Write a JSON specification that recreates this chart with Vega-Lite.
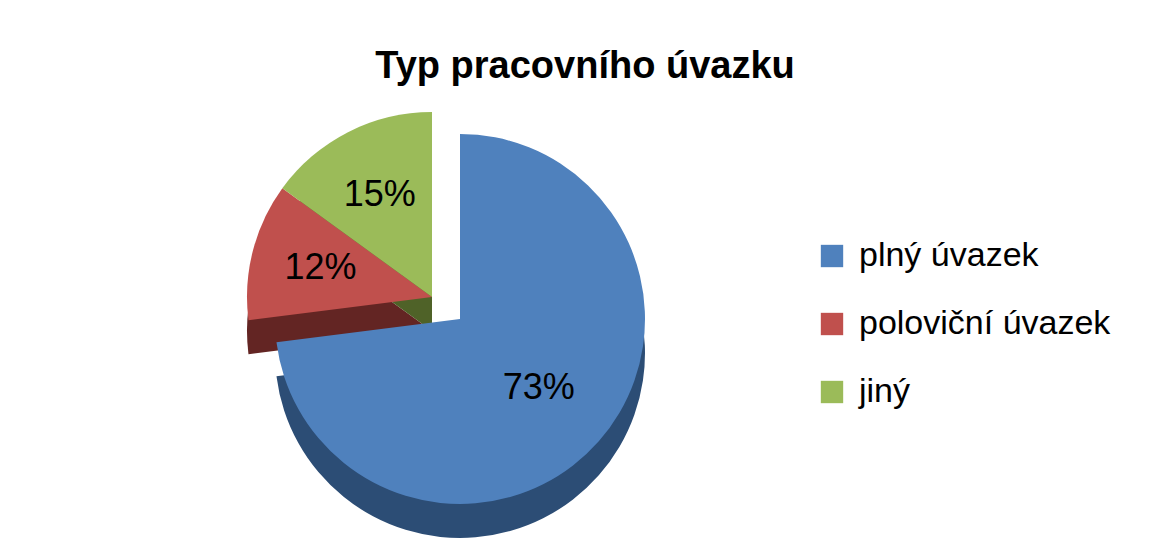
{
  "$schema": "https://vega.github.io/schema/vega-lite/v6.json",
  "width": 900,
  "height": 450,
  "padding": {"left": 10, "top": 48, "right": 5, "bottom": 5},
  "background": "white",
  "title": {
    "text": "Typ pracovního úvazku",
    "fontSize": 38,
    "font": "Liberation Sans",
    "fontWeight": "bold",
    "color": "black",
    "anchor": "middle",
    "dx": 125,
    "offset": 8
  },
  "data": {
    "values": [
      {"typ": "plný úvazek", "podil": 73, "label": "73%", "poradi": 1},
      {"typ": "poloviční úvazek", "podil": 12, "label": "12%", "poradi": 2},
      {"typ": "jiný", "podil": 15, "label": "15%", "poradi": 3}
    ]
  },
  "encoding": {
    "theta": {"field": "podil", "type": "quantitative", "stack": true},
    "order": {"field": "poradi", "type": "quantitative"},
    "color": {
      "field": "typ",
      "type": "nominal",
      "sort": ["plný úvazek", "poloviční úvazek", "jiný"],
      "scale": {
        "domain": ["plný úvazek", "poloviční úvazek", "jiný"],
        "range": ["#4F81BD", "#C0504D", "#9BBB59"]
      },
      "legend": {
        "title": null,
        "orient": "none",
        "legendX": 805,
        "legendY": 145,
        "symbolType": "square",
        "symbolSize": 500,
        "symbolStrokeWidth": 0,
        "labelFontSize": 34,
        "labelFont": "Liberation Sans",
        "labelColor": "black",
        "rowPadding": 34,
        "labelOffset": 10,
        "labelLimit": 400
      }
    }
  },
  "layer": [
    {
      "mark": {"type": "arc", "outerRadius": 185, "xOffset": -28, "yOffset": 12},
      "encoding": {
        "color": {"condition": {"test": "datum.typ == 'poloviční úvazek'", "value": "#632523"}, "value": "#4F6228"},
        "opacity": {"condition": {"test": "datum.typ == 'plný úvazek'", "value": 0}, "value": 1}
      }
    },
    {
      "mark": {"type": "arc", "outerRadius": 185, "xOffset": -28, "yOffset": -22},
      "encoding": {
        "opacity": {"condition": {"test": "datum.typ == 'plný úvazek'", "value": 0}, "value": 1}
      }
    },
    {
      "mark": {"type": "arc", "outerRadius": 185, "yOffset": 34},
      "encoding": {
        "color": {"value": "#2C4D75"},
        "opacity": {"condition": {"test": "datum.typ == 'plný úvazek'", "value": 1}, "value": 0}
      }
    },
    {
      "mark": {"type": "arc", "outerRadius": 185},
      "encoding": {
        "opacity": {"condition": {"test": "datum.typ == 'plný úvazek'", "value": 1}, "value": 0}
      }
    },
    {
      "mark": {"type": "text", "radius": 105, "fontSize": 36, "font": "Liberation Sans"},
      "encoding": {
        "text": {"field": "label"},
        "color": {"value": "black"},
        "opacity": {"condition": {"test": "datum.typ == 'plný úvazek'", "value": 1}, "value": 0}
      }
    },
    {
      "mark": {"type": "text", "radius": 115, "fontSize": 36, "font": "Liberation Sans", "xOffset": -28, "yOffset": -22},
      "encoding": {
        "text": {"field": "label"},
        "color": {"value": "black"},
        "opacity": {"condition": {"test": "datum.typ == 'plný úvazek'", "value": 0}, "value": 1}
      }
    }
  ],
  "config": {"view": {"stroke": null}}
}
